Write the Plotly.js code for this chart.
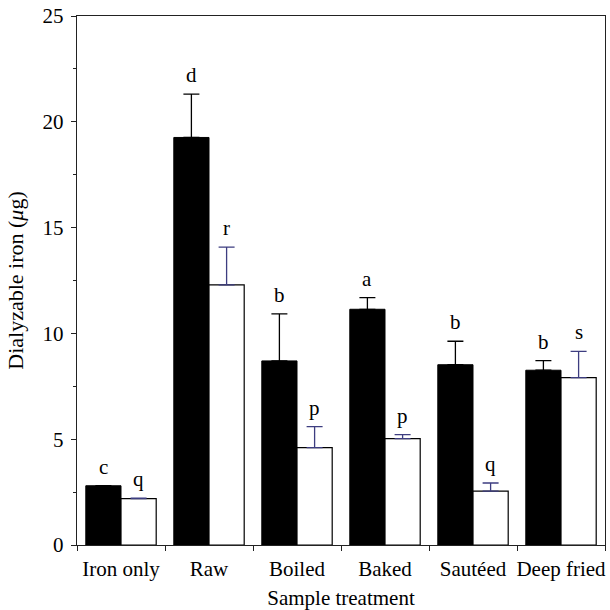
<!DOCTYPE html>
<html>
<head>
<meta charset="utf-8">
<script src="https://cdn.plot.ly/plotly-3.0.1.min.js"></script>
<style>html,body{margin:0;padding:0;background:#fff;}#chart{width:610px;height:610px;}</style>
</head>
<body>
<div id="chart"></div>
<script>
// Data
const categories = ["Iron only", "Raw", "Boiled", "Baked", "Sautéed", "Deep fried"];
const blackValues = [2.80, 19.26, 8.70, 11.14, 8.52, 8.26];
const blackErrors = [0.00, 2.05, 2.22, 0.55, 1.11, 0.45];
const whiteValues = [2.19, 12.29, 4.60, 5.03, 2.55, 7.91];
const whiteErrors = [0.02, 1.79, 0.99, 0.19, 0.38, 1.24];
const blackLetters = ["c", "d", "b", "a", "b", "b"];
const whiteLetters = ["q", "r", "p", "p", "q", "s"];

const serif = "Liberation Serif, Times New Roman, serif";

const traces = [
  {
    type: "bar", x: categories, y: blackValues, name: "black",
    marker: {color: "#000000", line: {color: "#000000", width: 1}},
    error_y: {type: "data", array: blackErrors, arrayminus: blackErrors.map(() => 0),
              symmetric: false, color: "#000000", thickness: 1.3, width: 8}
  },
  {
    type: "bar", x: categories, y: whiteValues, name: "white",
    marker: {color: "#ffffff", line: {color: "#000000", width: 1.2}},
    error_y: {type: "data", array: whiteErrors, arrayminus: whiteErrors.map(() => 0),
              symmetric: false, color: "#3d3d80", thickness: 1.3, width: 8}
  }
];

const annotations = [];
categories.forEach((c, i) => {
  annotations.push({x: i - 0.2, y: blackValues[i] + blackErrors[i], xref: "x", yref: "y",
    text: blackLetters[i], showarrow: false, yanchor: "bottom", yshift: 5,
    font: {family: serif, size: 21, color: "#000"}});
  annotations.push({x: i + 0.2, y: whiteValues[i] + whiteErrors[i], xref: "x", yref: "y",
    text: whiteLetters[i], showarrow: false, yanchor: "bottom", yshift: 5,
    font: {family: serif, size: 21, color: "#000"}});
});

const layout = {
  width: 610, height: 610,
  margin: {l: 77, r: 5, t: 16, b: 65},
  paper_bgcolor: "#fff", plot_bgcolor: "#fff",
  showlegend: false,
  barmode: "group", bargap: 0.2, bargroupgap: 0,
  font: {family: serif, size: 21, color: "#000"},
  xaxis: {
    type: "category", range: [-0.5, 5.5], tickangle: 0,
    showline: true, linecolor: "#222", linewidth: 1.2, mirror: true,
    ticks: "outside", tickson: "boundaries", ticklen: 5, tickcolor: "#222",
    ticklabelstandoff: 5,
    showgrid: false, zeroline: false, automargin: false,
    tickfont: {family: serif, size: 21, color: "#000"},
    title: {text: "Sample treatment", font: {family: serif, size: 21, color: "#000"}, standoff: 9}
  },
  yaxis: {
    range: [0, 25], dtick: 5, tick0: 0,
    showline: true, linecolor: "#222", linewidth: 1.2, mirror: true,
    ticks: "outside", ticklen: 5, tickcolor: "#222",
    ticklabelstandoff: 3,
    minor: {dtick: 2.5, ticks: "outside", ticklen: 3, tickcolor: "#222", showgrid: false},
    showgrid: false, zeroline: false, automargin: false,
    tickfont: {family: serif, size: 21, color: "#000"},
    title: {text: "Dialyzable iron (<i>μ</i>g)", font: {family: serif, size: 22, color: "#000"}, standoff: 12}
  },
  annotations: annotations
};

Plotly.newPlot("chart", traces, layout, {displayModeBar: false, staticPlot: true});
</script>
</body>
</html>
